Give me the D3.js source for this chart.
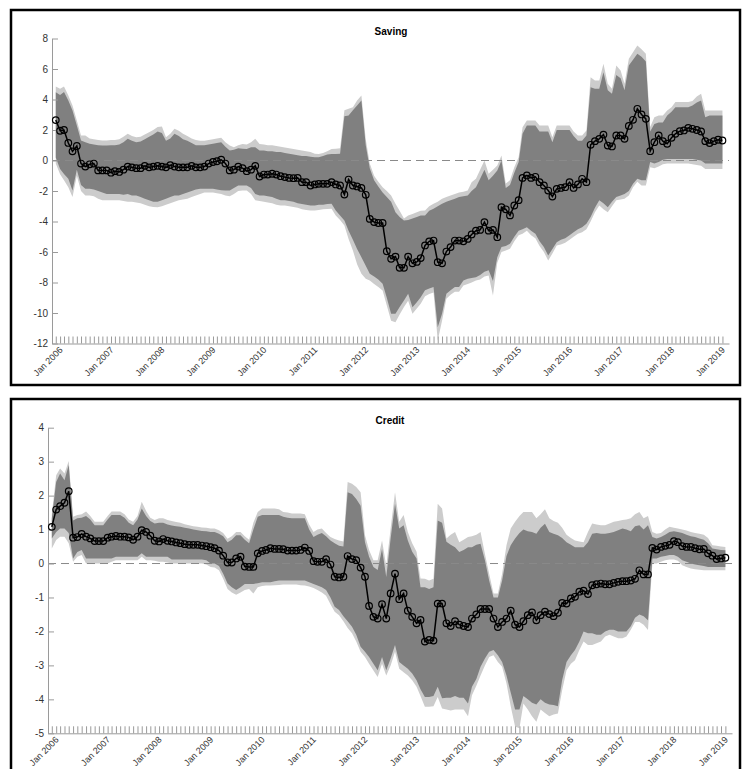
<!DOCTYPE html>
<html>
<head>
<meta charset="utf-8">
<script src="https://cdn.jsdelivr.net/npm/d3@7/dist/d3.min.js"></script>
<style>
  body { margin: 0; background: #fff; }
  text { font-family: "Liberation Sans", Arial, sans-serif; }
</style>
</head>
<body>
<svg id="chart" width="742" height="769"></svg>
<script>

// monthly observations, Jan 2006 .. Feb 2019
const months = d3.timeMonth.range(new Date(2006, 0, 1), new Date(2019, 2, 1));
const yearTicks = d3.timeYear.range(new Date(2006, 0, 1), new Date(2019, 1, 1));

// Saving: median and the two bands
const savMid = [2.65, 1.95, 2.0, 1.15, 0.6, 0.95, -0.2, -0.4, -0.25, -0.2, -0.65, -0.65,
  -0.65, -0.8, -0.7, -0.75, -0.6, -0.4, -0.45, -0.5, -0.5, -0.35, -0.45, -0.4,
  -0.35, -0.4, -0.45, -0.3, -0.4, -0.45, -0.45, -0.45, -0.35, -0.45, -0.45, -0.4,
  -0.2, -0.1, -0.05, 0.05, -0.2, -0.65, -0.6, -0.4, -0.5, -0.7, -0.6, -0.35,
  -1.05, -0.92, -0.92, -0.87, -0.92, -1.03, -1.09, -1.14, -1.16, -1.14, -1.42, -1.42,
  -1.64, -1.57, -1.53, -1.53, -1.53, -1.42, -1.57, -1.64, -2.23, -1.25, -1.64, -1.7,
  -1.8, -2.25, -3.83, -4.04, -4.1, -4.1, -5.95, -6.45, -6.3, -7.04, -7.04, -6.3,
  -6.74, -6.65, -6.4, -5.57, -5.3, -5.25, -6.67, -6.74, -5.97, -5.68, -5.25, -5.25,
  -5.3, -5.14, -4.85, -4.6, -4.55, -4.04, -4.6, -4.55, -5.03, -3.06, -3.2, -3.6,
  -2.95, -2.6, -1.14, -0.98, -1.14, -1.07, -1.42, -1.64, -1.97, -2.36, -1.86, -1.8,
  -1.75, -1.42, -1.8, -1.57, -1.2, -1.42, 1.03, 1.27, 1.42, 1.7, 0.98, 0.92,
  1.64, 1.64, 1.42, 2.27, 2.67, 3.39, 3.02, 2.73, 0.61, 1.2, 1.64, 1.27,
  1.1, 1.49, 1.75, 1.92, 1.97, 2.14, 2.08, 2.0, 1.9, 1.27, 1.14, 1.27,
  1.36, 1.31];

const savHi = [4.48, 4.3, 4.5, 3.93, 3.28, 2.3, 1.31, 1.2, 1.1, 1.05, 1.0, 0.98,
  0.98, 1.0, 1.0, 1.05, 1.2, 1.42, 1.3, 1.2, 1.25, 1.4, 1.55, 1.7,
  1.9, 1.8, 1.3, 1.45, 1.75, 1.6, 1.4, 1.3, 1.15, 1.0, 1.0, 1.0,
  1.05, 1.1, 1.15, 1.2, 0.9, 0.66, 0.7, 0.8, 0.77, 0.75, 0.87, 0.87,
  0.66, 0.65, 0.6, 0.6, 0.55, 0.55, 0.5, 0.45, 0.4, 0.35, 0.3, 0.3,
  0.25, 0.22, 0.22, 0.3, 0.4, 0.43, 0.43, 0.45, 2.9, 2.95, 3.3, 3.6,
  3.93, 1.0, -0.5, -1.3, -1.7, -2.1, -2.4, -2.7, -3.4, -3.7, -3.93, -3.9,
  -3.8, -3.7, -3.6, -3.6, -3.3, -3.16, -3.0, -2.84, -2.7, -2.6, -2.5, -2.4,
  -2.35, -2.3, -2.0, -1.75, -1.2, -0.6, -1.3, -1.0, -0.66, 0.0, -1.8, -1.6,
  -0.8, -0.1, 1.75, 2.3, 2.3, 2.3, 1.9, 1.9, 1.9, 1.2, 2.0, 2.0,
  2.0, 2.0, 1.6, 1.3, 1.3, 1.64, 4.8, 4.7, 4.7, 5.79, 4.6, 4.37,
  5.6, 5.4, 4.6, 6.23, 6.6, 7.0, 6.8, 6.5, 1.9, 2.4, 2.5, 2.5,
  2.95, 3.2, 3.5, 3.5, 3.5, 3.5, 3.6, 3.8, 3.93, 2.84, 2.95, 2.95,
  2.95, 2.95];

const savLo = [0.2, -0.55, -0.88, -1.2, -1.97, -0.6, -1.6, -1.86, -1.86, -1.9, -2.0, -2.1,
  -2.2, -2.2, -2.2, -2.2, -2.25, -2.2, -2.3, -2.3, -2.4, -2.5, -2.6, -2.7,
  -2.7, -2.6, -2.5, -2.4, -2.3, -2.3, -2.2, -2.1, -2.0, -1.9, -1.86, -1.86,
  -1.86, -1.86, -1.9, -1.95, -1.97, -1.97, -1.8, -1.64, -1.64, -1.64, -1.8, -2.2,
  -2.3, -2.3, -2.35, -2.4, -2.5, -2.6, -2.6, -2.65, -2.7, -2.8, -2.85, -2.9,
  -2.95, -2.95, -2.9, -2.9, -2.85, -2.84, -3.28, -3.6, -3.93, -4.6, -5.2, -5.8,
  -6.34, -6.9, -7.43, -7.6, -7.8, -8.09, -9.0, -10.05, -10.05, -9.6, -9.18, -8.74,
  -9.62, -9.3, -8.96, -8.5, -8.4, -8.3, -10.93, -10.05, -8.74, -8.5, -8.3, -8.3,
  -7.87, -7.75, -7.7, -7.65, -7.5, -7.3, -7.2, -7.9, -6.34, -5.68, -5.6, -5.46,
  -5.0, -4.6, -4.5, -4.37, -4.6, -4.8, -5.3, -5.68, -6.23, -5.8, -5.36, -5.2,
  -5.1, -4.9, -4.7, -4.5, -4.37, -4.15, -3.7, -3.1, -2.6, -2.8, -3.06, -2.7,
  -2.4, -2.3, -2.2, -2.0, -1.53, -1.2, -1.3, -1.3, -0.1, -0.2, -0.1, 0.05,
  0.1, 0.1, 0.1, 0.1, 0.1, 0.1, 0.1, 0.05, 0.0, -0.2, -0.2, -0.2,
  -0.2, -0.2];

const savHi2 = [4.85, 4.7, 4.85, 4.26, 3.6, 2.62, 1.64, 1.64, 1.45, 1.4, 1.35, 1.31,
  1.31, 1.35, 1.35, 1.4, 1.55, 1.75, 1.6, 1.53, 1.55, 1.7, 1.85, 2.0,
  2.2, 2.23, 1.53, 1.75, 2.08, 1.95, 1.75, 1.6, 1.45, 1.35, 1.3, 1.3,
  1.35, 1.4, 1.45, 1.5, 1.2, 0.98, 0.87, 1.0, 1.09, 1.05, 1.2, 1.42,
  1.09, 1.05, 1.0, 1.0, 0.95, 0.9, 0.85, 0.8, 0.75, 0.7, 0.65, 0.6,
  0.55, 0.45, 0.43, 0.5, 0.6, 0.75, 0.77, 0.8, 3.3, 3.39, 3.5, 3.93,
  4.26, 1.4, -0.2, -1.0, -1.4, -1.75, -2.0, -2.3, -2.84, -3.3, -3.8, -3.6,
  -3.5, -3.4, -3.3, -3.28, -3.0, -2.84, -2.7, -2.5, -2.4, -2.3, -2.2, -2.1,
  -2.05, -1.97, -1.42, -1.2, -0.6, 0.0, -0.87, -0.6, -0.33, 0.33, -1.5, -1.3,
  -0.44, 0.22, 2.18, 2.62, 2.62, 2.62, 2.3, 2.3, 2.3, 1.53, 2.3, 2.3,
  2.3, 2.3, 1.9, 1.64, 1.64, 1.97, 5.46, 5.25, 5.25, 6.34, 5.03, 4.7,
  6.23, 5.9, 5.03, 6.67, 7.1, 7.54, 7.3, 7.0, 2.2, 2.84, 2.95, 2.95,
  3.28, 3.5, 3.83, 3.83, 3.83, 3.83, 3.9, 4.2, 4.37, 3.28, 3.28, 3.28,
  3.28, 3.28];

const savLo2 = [-0.2, -0.9, -1.3, -1.75, -2.4, -1.0, -2.0, -2.3, -2.3, -2.35, -2.5, -2.6,
  -2.6, -2.6, -2.6, -2.6, -2.65, -2.7, -2.7, -2.75, -2.8, -2.9, -3.0, -3.05,
  -3.06, -3.0, -2.9, -2.8, -2.7, -2.6, -2.55, -2.5, -2.4, -2.3, -2.2, -2.1,
  -2.1, -2.1, -2.15, -2.2, -2.3, -2.35, -2.2, -2.0, -1.97, -1.97, -2.2, -2.6,
  -2.65, -2.7, -2.75, -2.8, -2.9, -2.95, -2.95, -3.0, -3.05, -3.1, -3.2, -3.25,
  -3.28, -3.28, -3.25, -3.2, -3.18, -3.16, -3.6, -3.9, -4.26, -5.14, -5.9, -6.8,
  -7.43, -7.76, -7.87, -8.1, -8.3, -8.52, -9.5, -10.5, -10.6, -10.1, -9.6, -9.2,
  -10.05, -9.7, -9.4, -8.9, -8.75, -8.65, -11.8, -10.5, -9.06, -8.8, -8.6, -8.6,
  -8.2, -8.1, -8.0, -7.87, -7.8, -7.6, -7.54, -8.85, -6.7, -6.0, -5.9, -5.79,
  -5.3, -4.9, -4.8, -4.6, -4.9, -5.1, -5.6, -6.0, -6.56, -6.1, -5.57, -5.5,
  -5.4, -5.2, -5.0, -4.8, -4.7, -4.5, -4.0, -3.4, -2.95, -3.2, -3.4, -3.0,
  -2.6, -2.55, -2.5, -2.3, -1.75, -1.4, -1.64, -1.64, -0.44, -0.5, -0.4, -0.25,
  -0.2, -0.2, -0.2, -0.2, -0.2, -0.2, -0.25, -0.3, -0.35, -0.55, -0.55, -0.55,
  -0.55, -0.55];

// Credit: median and the two bands
const creMid = [1.08, 1.59, 1.69, 1.79, 2.13, 0.76, 0.78, 0.87, 0.79, 0.74, 0.66, 0.66,
  0.66, 0.76, 0.79, 0.81, 0.79, 0.79, 0.77, 0.7, 0.79, 0.98, 0.93, 0.82,
  0.67, 0.65, 0.72, 0.67, 0.65, 0.62, 0.6, 0.57, 0.55, 0.55, 0.55, 0.53,
  0.51, 0.48, 0.45, 0.38, 0.23, 0.03, 0.03, 0.15, 0.2, -0.09, -0.1, -0.1,
  0.3, 0.37, 0.4, 0.45, 0.43, 0.43, 0.42, 0.38, 0.38, 0.38, 0.4, 0.47,
  0.37, 0.07, 0.05, 0.05, 0.13, -0.03, -0.39, -0.41, -0.39, 0.22, 0.13, 0.1,
  -0.12, -0.39, -1.25, -1.57, -1.62, -1.2, -1.62, -0.88, -0.3, -1.05, -0.88, -1.39,
  -1.57, -1.76, -1.66, -2.3, -2.25, -2.27, -1.18, -1.18, -1.76, -1.84, -1.7, -1.8,
  -1.84, -1.87, -1.62, -1.5, -1.34, -1.34, -1.34, -1.62, -1.87, -1.72, -1.62, -1.39,
  -1.8, -1.87, -1.7, -1.52, -1.44, -1.67, -1.52, -1.42, -1.49, -1.55, -1.45, -1.16,
  -1.18, -1.03, -0.98, -0.83, -0.8, -0.9, -0.64, -0.61, -0.59, -0.61, -0.61, -0.57,
  -0.54, -0.52, -0.52, -0.5, -0.45, -0.2, -0.32, -0.32, 0.46, 0.41, 0.49, 0.52,
  0.55, 0.66, 0.63, 0.51, 0.49, 0.49, 0.45, 0.42, 0.43, 0.3, 0.23, 0.13,
  0.15, 0.17];

const creHi = [1.33, 2.4, 2.65, 2.45, 2.9, 1.27, 1.33, 1.35, 1.4, 1.3, 1.13, 1.13,
  1.13, 1.3, 1.43, 1.43, 1.43, 1.35, 1.2, 1.13, 1.3, 1.62, 1.4, 1.25,
  1.18, 1.2, 1.2, 1.15, 1.12, 1.1, 1.08, 1.05, 1.03, 1.0, 0.98, 0.96,
  0.95, 0.93, 0.93, 0.88, 0.8, 0.63, 0.7, 0.83, 0.83, 0.7, 0.6, 1.0,
  1.38, 1.43, 1.43, 1.43, 1.43, 1.43, 1.38, 1.35, 1.33, 1.33, 1.33, 1.33,
  1.0, 0.78, 0.85, 0.9, 0.8, 0.68, 0.6, 0.52, 0.5, 2.1, 2.05, 1.9,
  1.7, 0.63, 0.2, -0.1, -0.19, 0.43, -0.4, 0.74, 1.76, 1.03, 1.13, 0.68,
  0.35, 0.15, -0.7, -0.7, -0.75, -0.7, 1.27, 1.2, 0.64, 0.55, 0.48, 0.34,
  0.4, 0.48, 0.48, 0.55, 0.58, 0.1, -0.5, -1.0, -1.0, -0.5, 0.22, 0.54,
  0.74, 0.9, 1.0, 0.95, 0.93, 0.88, 1.05, 1.17, 0.93, 0.88, 0.83, 0.75,
  0.63, 0.55, 0.48, 0.48, 0.48, 0.63, 0.88, 0.9, 0.88, 0.88, 0.9, 0.93,
  0.98, 1.03, 1.0, 0.95, 1.1, 1.13, 1.0, 1.13, 0.78, 0.74, 0.78, 0.85,
  0.93, 0.95, 0.93, 0.9, 0.85, 0.8, 0.78, 0.74, 0.7, 0.6, 0.44, 0.42,
  0.4, 0.39];

const creLo = [0.74, 0.93, 1.03, 1.03, 0.9, 0.15, 0.34, 0.4, 0.15, 0.15, 0.15, 0.15,
  0.15, 0.15, 0.15, 0.2, 0.2, 0.2, 0.2, 0.2, 0.2, 0.3, 0.2, 0.2,
  0.2, 0.2, 0.2, 0.2, 0.12, 0.12, 0.12, 0.12, 0.12, 0.12, 0.12, 0.12,
  0.1, 0.0, 0.0, -0.07, -0.3, -0.59, -0.7, -0.78, -0.7, -0.6, -0.6, -0.6,
  -0.58, -0.55, -0.55, -0.55, -0.52, -0.5, -0.5, -0.5, -0.5, -0.5, -0.5, -0.5,
  -0.55, -0.6, -0.65, -0.7, -0.78, -1.0, -1.27, -1.37, -1.55, -1.7, -1.86, -2.1,
  -2.45, -2.6, -2.75, -2.95, -3.14, -2.75, -3.14, -2.8, -2.4, -2.9, -3.0, -3.1,
  -3.24, -3.44, -3.7, -3.93, -3.93, -3.9, -3.63, -3.97, -3.95, -3.95, -3.9, -3.95,
  -3.95, -4.12, -3.63, -3.4, -3.04, -2.8, -2.6, -2.55, -2.7, -2.9, -3.3, -3.8,
  -4.3, -4.3, -3.9, -4.0, -4.1, -4.15, -4.0, -4.1, -4.15, -4.17, -4.2, -3.43,
  -2.9, -2.7, -2.55, -2.3, -2.0, -2.05, -2.05, -2.1, -2.1, -2.0, -1.95, -1.95,
  -2.0, -2.0, -2.0, -1.85, -1.6, -1.5, -1.55, -1.67, 0.15, 0.15, 0.2, 0.22,
  0.25, 0.25, 0.2, 0.1, 0.05, 0.0, -0.03, -0.05, -0.07, -0.1, -0.1, -0.1,
  -0.1, -0.1];

const creHi2 = [1.45, 2.6, 2.8, 2.65, 3.02, 1.38, 1.43, 1.45, 1.53, 1.4, 1.23, 1.23,
  1.23, 1.4, 1.53, 1.53, 1.53, 1.45, 1.3, 1.23, 1.4, 1.82, 1.55, 1.35,
  1.28, 1.33, 1.33, 1.28, 1.25, 1.22, 1.2, 1.16, 1.13, 1.1, 1.08, 1.06,
  1.05, 1.03, 1.03, 0.98, 0.9, 0.73, 0.8, 0.93, 0.93, 0.8, 0.7, 1.2,
  1.52, 1.62, 1.62, 1.62, 1.62, 1.6, 1.52, 1.5, 1.47, 1.47, 1.47, 1.45,
  1.15, 0.93, 1.0, 1.03, 0.9, 0.78, 0.72, 0.68, 0.65, 2.4, 2.35, 2.25,
  2.1, 0.83, 0.4, 0.1, 0.1, 0.68, -0.07, 1.03, 2.1, 1.23, 1.43, 0.93,
  0.6, 0.35, -0.44, -0.45, -0.5, -0.45, 1.76, 1.62, 0.74, 0.85, 0.93, 0.63,
  0.7, 0.78, 0.8, 0.85, 0.93, 0.28, -0.3, -0.88, -0.88, -0.3, 0.54, 1.03,
  1.23, 1.4, 1.52, 1.52, 1.52, 1.33, 1.45, 1.6, 1.33, 1.25, 1.2, 1.05,
  0.85, 0.75, 0.68, 0.65, 0.63, 0.93, 1.18, 1.15, 1.13, 1.13, 1.18, 1.23,
  1.25, 1.28, 1.3, 1.33, 1.45, 1.52, 1.33, 1.4, 0.93, 0.88, 0.9, 1.0,
  1.08, 1.05, 1.03, 1.0, 0.97, 0.93, 0.9, 0.88, 0.85, 0.75, 0.54, 0.52,
  0.5, 0.49];

const creLo2 = [0.44, 0.69, 0.79, 0.79, 0.6, 0.05, 0.2, 0.25, 0.0, 0.0, 0.0, 0.0,
  0.0, 0.0, 0.05, 0.1, 0.1, 0.1, 0.1, 0.1, 0.1, 0.2, 0.1, 0.1,
  0.08, 0.05, 0.05, 0.03, 0.0, 0.0, 0.0, 0.0, 0.0, 0.0, 0.0, 0.0,
  -0.03, -0.1, -0.12, -0.2, -0.45, -0.75, -0.85, -0.92, -0.85, -0.78, -0.75, -0.88,
  -0.7, -0.66, -0.65, -0.65, -0.64, -0.63, -0.62, -0.62, -0.62, -0.62, -0.64, -0.65,
  -0.68, -0.72, -0.78, -0.85, -0.95, -1.2, -1.42, -1.52, -1.7, -1.9, -2.05, -2.3,
  -2.6, -2.75, -2.95, -3.15, -3.34, -2.95, -3.3, -3.0, -2.6, -3.1, -3.2, -3.3,
  -3.44, -3.63, -3.9, -4.22, -4.22, -4.2, -3.93, -4.27, -4.3, -4.33, -4.3, -4.3,
  -4.3, -4.5, -3.88, -3.6, -3.3, -3.0, -2.75, -2.7, -2.9, -3.04, -3.53, -4.2,
  -4.8, -4.85, -4.12, -4.3, -4.5, -4.66, -4.3, -4.4, -4.5, -4.45, -4.42, -3.73,
  -3.14, -2.95, -2.85, -2.55, -2.3, -2.4, -2.4, -2.35, -2.3, -2.15, -2.1, -2.15,
  -2.2, -2.2, -2.15, -1.95, -1.72, -1.72, -1.8, -1.96, 0.0, 0.0, 0.05, 0.1,
  0.12, 0.12, 0.08, -0.05, -0.1, -0.15, -0.17, -0.18, -0.2, -0.2, -0.2, -0.2,
  -0.2, -0.2];

const savTicks = [-12, -10, -8, -6, -4, -2, 0, 2, 4, 6, 8];
const creTicks = [-5, -4, -3, -2, -1, 0, 1, 2, 3, 4];

const svg = d3.select('#chart');
const xDomain = [new Date(2005, 11, 5), new Date(2019, 2, 20)];

function drawPanel(p) {

    const g = svg.append('g');

    // black frame round the panel
    g.append('rect')
        .attr('x', p.frame[0]).attr('y', p.frame[1])
        .attr('width', p.frame[2]).attr('height', p.frame[3])
        .attr('fill', 'none').attr('stroke', '#000').attr('stroke-width', 2.5);

    const x = d3.scaleTime().domain(xDomain).range(p.xRange);
    const y = d3.scaleLinear().domain(p.yDomain).range(p.yRange);

    const rows = months.map((d, i) => ({
        date: d, mid: p.mid[i], hi: p.hi[i], lo: p.lo[i], hi2: p.hi2[i], lo2: p.lo2[i]
    }));

    const outer = d3.area().x(d => x(d.date)).y0(d => y(d.lo2)).y1(d => y(d.hi2));
    const inner = d3.area().x(d => x(d.date)).y0(d => y(d.lo)).y1(d => y(d.hi));

    g.append('path').datum(rows).attr('d', outer).attr('fill', '#cccccc');
    g.append('path').datum(rows).attr('d', inner).attr('fill', '#808080');

    // zero reference
    g.append('line')
        .attr('x1', p.xRange[0]).attr('x2', p.xRange[1])
        .attr('y1', y(0)).attr('y2', y(0))
        .attr('stroke', '#8a8a8a').attr('stroke-width', 1)
        .attr('stroke-dasharray', '8,5');

    // axes
    const yAxis = d3.axisLeft(y)
        .tickValues(p.yTicks)
        .tickSizeInner(-6).tickSizeOuter(0).tickPadding(4)
        .tickFormat(d => String(d));

    const ya = g.append('g')
        .attr('transform', `translate(${p.xRange[0]},0)`)
        .call(yAxis);

    const xa = g.append('g')
        .attr('transform', `translate(0,${p.yRange[0]})`)
        .call(d3.axisBottom(x).tickValues(months).tickSizeInner(-7).tickSizeOuter(0).tickFormat(''));

    const xl = g.append('g')
        .attr('transform', `translate(0,${p.yRange[0]})`)
        .call(d3.axisBottom(x).tickValues(yearTicks).tickSize(0).tickFormat(d3.timeFormat('Jan %Y')));

    xl.select('.domain').remove();

    [ya, xa, xl].forEach(a => {
        a.selectAll('.domain, line').attr('stroke', '#9a9a9a');
        a.selectAll('text').attr('fill', '#333').attr('font-size', 10)
            .attr('font-family', '"Liberation Sans", Arial, sans-serif');
    });

    xl.selectAll('text')
        .attr('y', 0).attr('dy', 0).attr('x', 0)
        .attr('font-size', 9)
        .attr('text-anchor', 'end')
        .attr('transform', 'translate(7,7) rotate(-45)');

    // median line with open circles
    const line = d3.line().x(d => x(d.date)).y(d => y(d.mid));

    g.append('path').datum(rows)
        .attr('d', line)
        .attr('fill', 'none').attr('stroke', '#000').attr('stroke-width', 1.5);

    g.selectAll('circle.pt')
        .data(rows)
        .enter()
        .append('circle')
            .attr('class', 'pt')
            .attr('cx', d => x(d.date))
            .attr('cy', d => y(d.mid))
            .attr('r', 3.3)
            .attr('fill', 'none')
            .attr('stroke', '#000')
            .attr('stroke-width', 1.2);

    g.append('text')
        .attr('x', p.titlePos[0]).attr('y', p.titlePos[1])
        .attr('text-anchor', 'middle')
        .attr('font-size', 10).attr('font-weight', 'bold')
        .text(p.title);
}

drawPanel({
    title: 'Saving', titlePos: [391, 35],
    frame: [11, 10, 729, 375],
    xRange: [52, 729], yRange: [343.5, 38.5], yDomain: [-12, 8],
    yTicks: savTicks,
    mid: savMid, hi: savHi, lo: savLo, hi2: savHi2, lo2: savLo2
});

drawPanel({
    title: 'Credit', titlePos: [390, 424],
    frame: [11, 399, 729, 400],
    xRange: [48, 732], yRange: [733.3, 427.7], yDomain: [-5, 4],
    yTicks: creTicks,
    mid: creMid, hi: creHi, lo: creLo, hi2: creHi2, lo2: creLo2
});

</script>
</body>
</html>
